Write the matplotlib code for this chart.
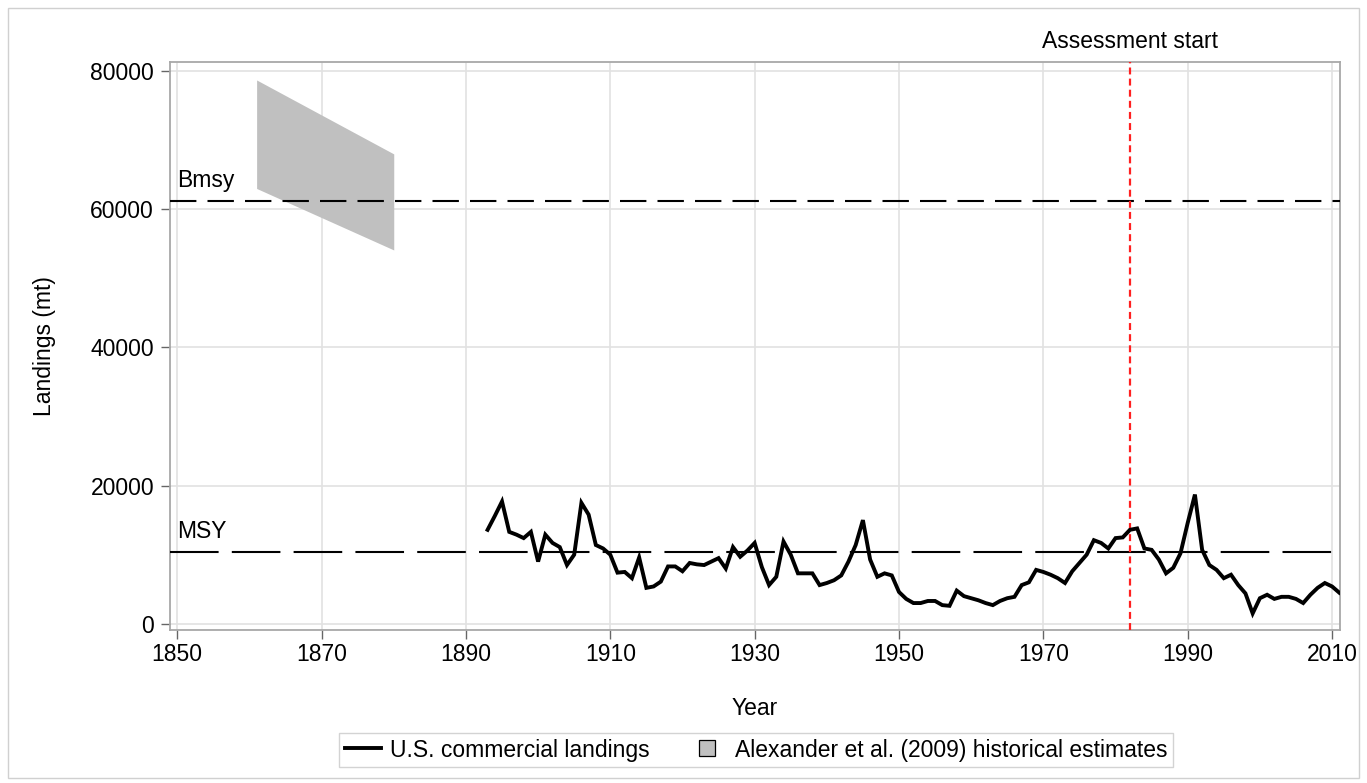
import matplotlib
matplotlib.use("Agg")
import matplotlib.pyplot as plt
from matplotlib.lines import Line2D
from matplotlib.patches import Rectangle

plt.rcParams['font.family'] = ['Liberation Sans', 'DejaVu Sans']
plt.rcParams['lines.scale_dashes'] = False

# ---- data ----
years = list(range(1893, 2012))
landings = [
    13600, 15600, 17700, 13300, 12900, 12400, 13300, 9000, 12900, 11700,   # 1893-1902
    11100, 8500, 10000, 17500, 15800, 11400, 10900, 10000, 7400, 7500,     # 1903-1912
    6600, 9600, 5200, 5400, 6100, 8300, 8300, 7600, 8800, 8600,            # 1913-1922
    8500, 9000, 9500, 8000, 11100, 9700, 10600, 11700, 8200, 5600,         # 1923-1932
    6800, 11900, 10000, 7300, 7300, 7300, 5600, 5900, 6300, 7000,          # 1933-1942
    9000, 11400, 15000, 9300, 6800, 7300, 7000, 4600, 3600, 3000,          # 1943-1952
    3000, 3300, 3300, 2700, 2600, 4800, 4000, 3700, 3400, 3000,            # 1953-1962
    2700, 3300, 3700, 3900, 5600, 6000, 7800, 7500, 7100, 6600,            # 1963-1972
    5900, 7600, 8800, 10000, 12100, 11700, 10900, 12400, 12500, 13600,     # 1973-1982
    13800, 10900, 10700, 9300, 7300, 8100, 10200, 14600, 18700, 10700,     # 1983-1992
    8500, 7800, 6600, 7100, 5600, 4400, 1500, 3700, 4200, 3600,            # 1993-2002
    3900, 3900, 3600, 3000, 4200, 5200, 5900, 5400, 4500,                  # 2003-2011
]
hist_years = [1861, 1880]
hist_low = [63000, 54100]
hist_high = [78700, 68000]
bmsy = 61200
msy = 10400
assess_year = 1982
xticks = list(range(1850, 2011, 20))
yticks = [0, 20000, 40000, 60000, 80000]

FS = 16.5
W, H = 1367, 783
fig = plt.figure(figsize=(W / 100, H / 100), dpi=100)
ax = fig.add_axes([170 / W, 1 - 630 / H, (1340 - 170) / W, (630 - 62) / H])

gridc = '#e2e2e2'
ax.set_axisbelow(True)
ax.grid(True, color=gridc, linewidth=1.2)

ax.fill_between(hist_years, hist_low, hist_high, color='#c0c0c0', linewidth=0, zorder=2)

ax.axhline(bmsy, color='black', linewidth=1.5, linestyle=(0, (19, 8)), zorder=3)
ax.axhline(msy, color='black', linewidth=1.5, linestyle=(0, (35, 9.5)), zorder=3)
ax.axvline(assess_year, color='#ff2020', linewidth=1.6, linestyle=(0, (5, 3)), zorder=3)

ax.plot(years, landings, color='black', linewidth=2.8, zorder=4, solid_joinstyle='miter')

ax.text(1850, bmsy + 1300, 'Bmsy', fontsize=FS, ha='left', va='bottom')
ax.text(1850, msy + 1300, 'MSY', fontsize=FS, ha='left', va='bottom')
ax.text(assess_year, 82600, 'Assessment start', fontsize=FS, ha='center', va='bottom')

ax.set_xlim(1849.0, 2011.1)
ax.set_ylim(-900, 81300)
ax.set_xticks(xticks)
ax.set_yticks(yticks)
ax.tick_params(axis='both', labelsize=FS, length=6.5, width=1, color='#666666', direction='out')
ax.tick_params(axis='y', pad=5)
ax.tick_params(axis='x', pad=3)
for s in ax.spines.values():
    s.set_color('#a8a8a8')
    s.set_linewidth(1.3)

ax.set_xlabel('Year', fontsize=FS, labelpad=22)
ax.set_ylabel('Landings (mt)', fontsize=FS, labelpad=25)

handles = [
    Line2D([0], [0], color='black', linewidth=2.8),
    Line2D([0], [0], linestyle='none', marker='s', markersize=11.5,
           markerfacecolor='#c0c0c0', markeredgecolor='black', markeredgewidth=0.9),
]
labels = ['U.S. commercial landings', 'Alexander et al. (2009) historical estimates']
leg = fig.legend(handles, labels, loc='center', bbox_to_anchor=(756 / W, 1 - 750 / H),
                 ncol=2, fontsize=FS, frameon=True, fancybox=False,
                 edgecolor='#c8c8c8', handlelength=1.6, handleheight=0.7,
                 columnspacing=1.7, handletextpad=0.4, borderpad=0.25,
                 borderaxespad=0)
leg.get_frame().set_linewidth(1.0)

fig.patches.append(Rectangle((8 / W, 5 / H), (W - 16) / W, (H - 13) / H,
                             transform=fig.transFigure, fill=False,
                             edgecolor='#d0d0d0', linewidth=1.0))

fig.savefig('out.png', dpi=100)
